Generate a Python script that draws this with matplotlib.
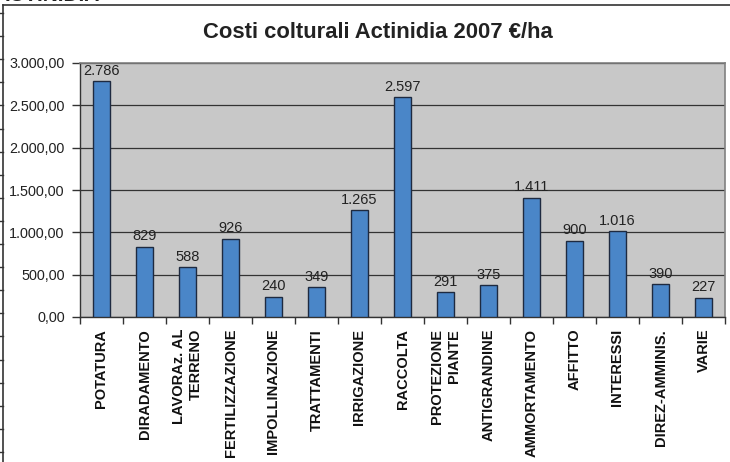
import numpy as np
import matplotlib
matplotlib.use("Agg")
import matplotlib.pyplot as plt
from matplotlib.lines import Line2D
from matplotlib.ticker import FuncFormatter

plt.rcParams['font.family'] = ['Liberation Sans', 'DejaVu Sans']

# dati
categorie = ["POTATURA", "DIRADAMENTO", "LAVORAz. AL\nTERRENO", "FERTILIZZAZIONE",
             "IMPOLLINAZIONE", "TRATTAMENTI", "IRRIGAZIONE", "RACCOLTA",
             "PROTEZIONE\nPIANTE", "ANTIGRANDINE", "AMMORTAMENTO", "AFFITTO",
             "INTERESSI", "DIREZ-AMMINIS.", "VARIE"]
costi = [2786, 829, 588, 926, 240, 349, 1265, 2597, 291, 375, 1411, 900, 1016, 390, 227]
titolo = "Costi colturali Actinidia 2007 €/ha"

W, H = 730, 462
fig = plt.figure(figsize=(W / 100, H / 100), dpi=100)
ax = fig.add_axes([80 / W, 1 - 317 / H, 645 / W, 254 / H])

def px(x, y):
    # pixel -> frazione figura
    return x / W, 1 - y / H

# cornice esterna
fig.add_artist(Line2D([px(3, 5)[0], px(730, 5)[0]], [px(3, 5)[1], px(730, 5)[1]],
                      color='#333333', lw=1.2))
fig.add_artist(Line2D([px(3, 5)[0], px(3, 462)[0]], [px(3, 5)[1], px(3, 462)[1]],
                      color='#333333', lw=1.2))
for yy in np.linspace(13, 452, 20):
    fig.add_artist(Line2D([0, px(3, yy)[0]], [px(3, yy)[1]] * 2, color='#333333', lw=1.0))

# testo tagliato in alto
fig.text(px(100, 0)[0], px(100, 1.0)[1], "ACTINIDIA", ha='right', va='baseline',
         fontsize=15, fontweight='bold', color='#222222')

# titolo
fig.text(px(378, 32)[0], px(378, 32)[1], titolo, ha='center', va='center',
         fontsize=15.8, fontweight='bold', color='#222222')

x = np.arange(len(costi))
ax.set_facecolor('#C8C8C8')
ax.bar(x, costi, width=0.4, color='#4A86C8', edgecolor='#1E2A40', linewidth=1.0, zorder=3)
ax.set_xlim(-0.5, len(costi) - 0.5)
ax.set_ylim(0, 3000)
ax.set_yticks(np.arange(0, 3001, 500))
ax.yaxis.set_major_formatter(FuncFormatter(
    lambda v, p: f"{v:,.2f}".replace(",", "X").replace(".", ",").replace("X", ".")))
ax.grid(axis='y', color='#333333', linewidth=0.9, zorder=1)
ax.tick_params(axis='y', labelsize=10.4, length=6, width=1, color='#333333',
               labelcolor='#222222', pad=5)

# etichette valori
for xi, v in zip(x, costi):
    ax.text(xi, v + 40, f"{v:,}".replace(",", "."), ha='center', va='bottom',
            fontsize=10.5, color='#222222', zorder=4)

# asse x: tacche tra le categorie, etichette ruotate
ax.set_xticks(np.arange(-0.5, len(costi), 1.0))
ax.set_xticklabels([])
ax.tick_params(axis='x', length=5, width=1, color='#333333')
for xi, lab in zip(x, categorie):
    ax.text(xi, -140, lab, rotation=90, ha='center', va='top', multialignment='right',
            fontsize=10.5, fontweight='bold', color='#111111', linespacing=1.25)

for s in ['left', 'bottom']:
    ax.spines[s].set_color('#333333')
    ax.spines[s].set_linewidth(1.0)
for s in ['top', 'right']:
    ax.spines[s].set_color('#808080')
    ax.spines[s].set_linewidth(1.2)

fig.savefig("out.png", dpi=100)
